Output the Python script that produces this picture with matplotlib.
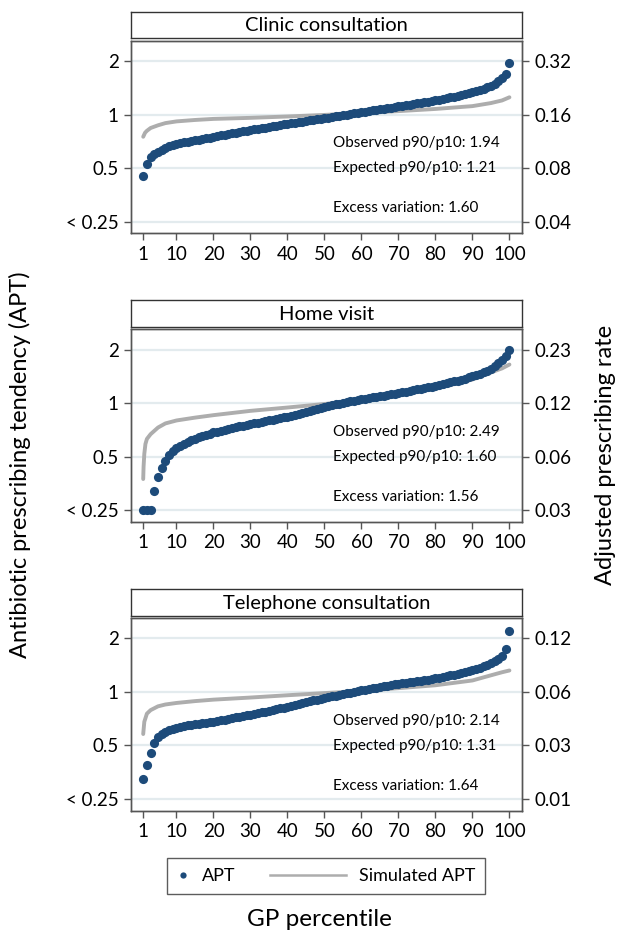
import numpy as np
import matplotlib
matplotlib.use('Agg')
import matplotlib.pyplot as plt
from matplotlib.legend_handler import HandlerLine2D
from matplotlib.lines import Line2D

plt.rcParams['font.family'] = ['Lato', 'DejaVu Sans']

# ---- data ----
pct = np.arange(1, 101)

clinic_apt = [0.45, 0.53, 0.575, 0.60, 0.615, 0.635, 0.65, 0.665, 0.675, 0.685,
              0.692, 0.698, 0.704, 0.71, 0.716, 0.722, 0.728, 0.735, 0.742, 0.75,
              0.757, 0.764, 0.771, 0.778, 0.785, 0.792, 0.799, 0.806, 0.813, 0.82,
              0.826, 0.832, 0.838, 0.845, 0.852, 0.859, 0.866, 0.872, 0.879, 0.885,
              0.892, 0.899, 0.906, 0.913, 0.92, 0.927, 0.934, 0.941, 0.948, 0.955,
              0.962, 0.97, 0.977, 0.985, 0.992, 1.0, 1.007, 1.015, 1.022, 1.03,
              1.038, 1.046, 1.054, 1.062, 1.07, 1.078, 1.086, 1.094, 1.102, 1.11,
              1.119, 1.128, 1.137, 1.146, 1.155, 1.164, 1.173, 1.182, 1.191, 1.20,
              1.212, 1.224, 1.236, 1.248, 1.26, 1.272, 1.285, 1.298, 1.313, 1.33,
              1.35, 1.37, 1.39, 1.42, 1.45, 1.49, 1.54, 1.60, 1.68, 1.95]
clinic_sim_x = [1, 1.5, 2, 3, 5, 7, 10, 15, 20, 30, 40, 50, 60, 70, 80, 90, 95, 98, 100]
clinic_sim = [0.75, 0.79, 0.81, 0.84, 0.87, 0.895, 0.915, 0.932, 0.945, 0.958,
              0.975, 0.995, 1.02, 1.045, 1.075, 1.115, 1.16, 1.2, 1.25]

home_apt = [0.25, 0.25, 0.25, 0.32, 0.385, 0.435, 0.475, 0.51, 0.54, 0.56,
            0.575, 0.59, 0.605, 0.618, 0.63, 0.642, 0.653, 0.664, 0.675, 0.685,
            0.693, 0.701, 0.709, 0.717, 0.725, 0.733, 0.741, 0.748, 0.755, 0.762,
            0.77, 0.778, 0.786, 0.794, 0.802, 0.81, 0.818, 0.826, 0.834, 0.842,
            0.852, 0.862, 0.873, 0.884, 0.895, 0.906, 0.918, 0.93, 0.942, 0.955,
            0.965, 0.975, 0.985, 0.995, 1.005, 1.014, 1.023, 1.032, 1.041, 1.05,
            1.059, 1.068, 1.077, 1.086, 1.095, 1.104, 1.113, 1.122, 1.131, 1.14,
            1.151, 1.162, 1.173, 1.184, 1.195, 1.206, 1.217, 1.228, 1.239, 1.25,
            1.265, 1.28, 1.295, 1.31, 1.326, 1.342, 1.358, 1.375, 1.397, 1.42,
            1.44, 1.465, 1.49, 1.52, 1.56, 1.62, 1.69, 1.76, 1.85, 1.99]
home_sim_x = [1, 1.1, 1.3, 1.6, 2, 3, 5, 7, 10, 15, 20, 30, 40, 50, 60, 70, 80, 90, 95, 98, 100]
home_sim = [0.375, 0.44, 0.52, 0.59, 0.63, 0.67, 0.73, 0.77, 0.80, 0.83, 0.857,
            0.906, 0.946, 0.99, 1.035, 1.11, 1.21, 1.36, 1.49, 1.57, 1.65]

tel_apt = [0.323, 0.39, 0.455, 0.515, 0.555, 0.578, 0.595, 0.608, 0.62, 0.63,
           0.636, 0.642, 0.648, 0.653, 0.658, 0.663, 0.667, 0.671, 0.675, 0.68,
           0.686, 0.692, 0.698, 0.705, 0.712, 0.719, 0.726, 0.732, 0.738, 0.745,
           0.752, 0.76, 0.768, 0.776, 0.784, 0.792, 0.8, 0.808, 0.817, 0.826,
           0.836, 0.846, 0.856, 0.866, 0.876, 0.886, 0.896, 0.906, 0.916, 0.927,
           0.936, 0.945, 0.954, 0.963, 0.972, 0.982, 0.992, 1.001, 1.01, 1.02,
           1.029, 1.038, 1.047, 1.056, 1.065, 1.074, 1.083, 1.092, 1.101, 1.11,
           1.118, 1.126, 1.134, 1.142, 1.15, 1.158, 1.166, 1.174, 1.182, 1.19,
           1.202, 1.214, 1.226, 1.238, 1.251, 1.264, 1.278, 1.293, 1.31, 1.33,
           1.35, 1.37, 1.395, 1.42, 1.45, 1.49, 1.54, 1.59, 1.74, 2.2]
tel_sim_x = [1, 1.3, 2, 3, 5, 7, 10, 15, 20, 30, 40, 50, 60, 70, 80, 90, 95, 98, 100]
tel_sim = [0.58, 0.68, 0.755, 0.79, 0.83, 0.85, 0.867, 0.888, 0.905, 0.93,
           0.958, 0.985, 1.012, 1.05, 1.09, 1.16, 1.24, 1.29, 1.32]

titles = ['Clinic consultation', 'Home visit', 'Telephone consultation']
observed = ['1.94', '2.49', '2.14']
expected = ['1.21', '1.60', '1.31']
excess = ['1.60', '1.56', '1.64']
left_ticks = [0.25, 0.5, 1, 2]
left_labels = ['< 0.25', '0.5', '1', '2']
right_labels = [['0.04', '0.08', '0.16', '0.32'],
                ['0.03', '0.06', '0.12', '0.23'],
                ['0.01', '0.03', '0.06', '0.12']]
x_ticks = [1, 10, 20, 30, 40, 50, 60, 70, 80, 90, 100]

apt_all = [clinic_apt, home_apt, tel_apt]
sim_x_all = [clinic_sim_x, home_sim_x, tel_sim_x]
sim_all = [clinic_sim, home_sim, tel_sim]

blue = '#1d4b7a'
grey = '#adadad'
W, H = 626, 943

fig = plt.figure(figsize=(W / 100, H / 100), dpi=100)

left = 131 / W
width = 391 / W
tops = [40.7, 329.4, 618.1]
ph = 192.6

for i in range(3):
    top = tops[i]
    ax = fig.add_axes([left, 1 - (top + ph) / H, width, ph / H])
    # title strip
    tax = fig.add_axes([left, 1 - (top - 2.4) / H, width, 26.6 / H])
    tax.set_xticks([]); tax.set_yticks([])
    for s in tax.spines.values():
        s.set_color('#333333'); s.set_linewidth(1)
    tax.text(0.5, 0.47, titles[i], ha='center', va='center', fontsize=14.5,
             transform=tax.transAxes)

    ax.plot(sim_x_all[i], sim_all[i], color=grey, lw=2.8, zorder=2,
            solid_capstyle='round')
    ax.plot(pct, apt_all[i], 'o', color=blue, ms=6.6, mew=0, zorder=3)

    ax.set_yscale('log')
    ax.set_ylim(0.215, 2.6)
    ax.set_xlim(-2.3, 103.4)
    ax.minorticks_off()
    ax.set_yticks(left_ticks)
    ax.set_yticklabels(left_labels)
    ax.set_xticks(x_ticks)
    ax.yaxis.grid(True, color='#e3ebee', lw=1.6)
    ax.set_axisbelow(True)
    for s in ax.spines.values():
        s.set_color('#555555'); s.set_linewidth(1)
    ax.tick_params(axis='both', length=5, width=1, color='#555555',
                   labelsize=13.5, pad=4)

    rax = ax.twinx()
    rax.set_yscale('log')
    rax.set_ylim(ax.get_ylim())
    rax.minorticks_off()
    rax.set_yticks(left_ticks)
    rax.set_yticklabels(right_labels[i])
    rax.tick_params(axis='y', length=5, width=1, color='#555555',
                    labelsize=13.5, pad=4)
    for s in rax.spines.values():
        s.set_color('#555555'); s.set_linewidth(1)

    ax.text(0.517, 0.467, 'Observed p90/p10: ' + observed[i], fontsize=11,
            transform=ax.transAxes, va='center')
    ax.text(0.517, 0.337, 'Expected p90/p10: ' + expected[i], fontsize=11,
            transform=ax.transAxes, va='center')
    ax.text(0.517, 0.13, 'Excess variation: ' + excess[i], fontsize=11,
            transform=ax.transAxes, va='center')


class LongLine(HandlerLine2D):
    # legend line that reaches further to the left than the handle box
    def __init__(self, extra, **kw):
        super().__init__(**kw)
        self.extra = extra

    def get_xdata(self, legend, xdescent, ydescent, width, height, fontsize):
        xdata, xm = super().get_xdata(legend, xdescent, ydescent, width, height, fontsize)
        xdata = np.array([-xdescent - self.extra * fontsize, width - xdescent])
        return xdata, xm


h_apt = Line2D([], [], marker='o', ls='none', color=blue, ms=4.5, mew=0)
h_sim = Line2D([], [], color=grey, lw=1.8)
leg = fig.legend([h_apt, h_sim], ['APT', 'Simulated APT'], ncol=2,
                 loc='center', bbox_to_anchor=(326 / W, 1 - 876 / H),
                 fontsize=13, frameon=True, fancybox=False, handlelength=0.7,
                 handletextpad=0.7, columnspacing=5.4, borderpad=0.55,
                 handler_map={h_sim: LongLine(3.5)})
leg.get_frame().set_edgecolor('#333333')
leg.get_frame().set_linewidth(1)

fig.text(20 / W, 1 - 465 / H, 'Antibiotic prescribing tendency (APT)',
         rotation=90, ha='center', va='center', fontsize=17)
fig.text(606 / W, 1 - 455 / H, 'Adjusted prescribing rate',
         rotation=90, ha='center', va='center', fontsize=17)
fig.text(319 / W, 1 - 920 / H, 'GP percentile', ha='center', va='center',
         fontsize=17.5)

fig.savefig('out.png', dpi=100)
